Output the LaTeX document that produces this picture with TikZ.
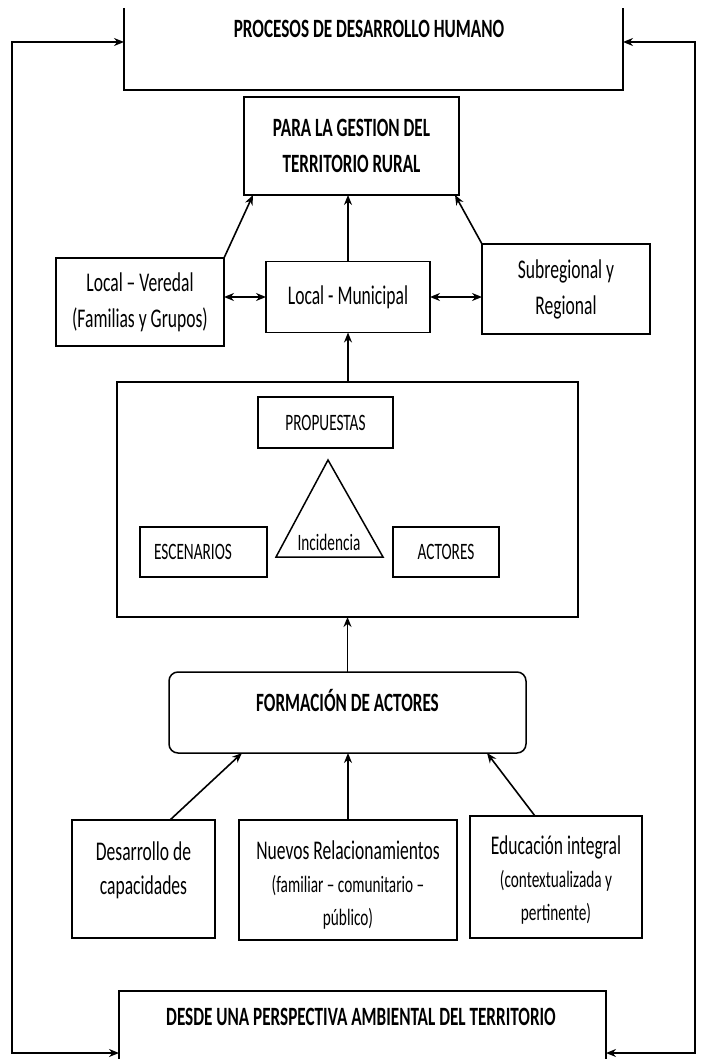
\documentclass[tikz,border=0pt]{standalone}
\usepackage{fontspec}
\setmainfont{Carlito}[FakeStretch=0.65]
\usetikzlibrary{arrows.meta,calc}
\begin{document}
\begin{tikzpicture}[x=1pt,y=-1pt,
  line width=1.5pt,
  box/.style={draw, line width=1.5pt, inner sep=0pt, outer sep=0pt},
  arr/.style={-{Stealth[length=10pt,width=8pt]}, line width=1.6pt},
  darr/.style={{Stealth[length=10pt,width=8pt]}-{Stealth[length=10pt,width=8pt]}, line width=1.6pt},
  ttl/.style={font=\fontsize{26.4}{36}\selectfont\bfseries, align=center, inner sep=0pt},
  txt/.style={font=\fontsize{27}{36}\selectfont, align=center, inner sep=0pt},
  small/.style={font=\fontsize{23.5}{33}\selectfont, align=center, inner sep=0pt},
  caps/.style={font=\fontsize{23.5}{26}\selectfont, align=center, inner sep=0pt}
]
\useasboundingbox (0,0) rectangle (705,1059);

% top open box
\coordinate (pTL) at (124,8);
\coordinate (pBL) at (124,90);
\coordinate (pBR) at (623,90);
\coordinate (pTR) at (623,8);
\draw (pTL) -- (pBL) -- (pBR) -- (pTR);
\node[ttl] (proc) at (369,29) {PROCESOS DE DESARROLLO HUMANO};

% bottom open box
\coordinate (dTL) at (119,1062);
\coordinate (dUL) at (119,991);
\coordinate (dUR) at (606,991);
\coordinate (dTR) at (606,1062);
\draw (dTL) -- (dUL) -- (dUR) -- (dTR);
\node[ttl] (desde) at (361,1017) {DESDE UNA PERSPECTIVA AMBIENTAL DEL TERRITORIO};

% feedback loops
\coordinate (lA) at (124,42);
\coordinate (lB) at (12,42);
\coordinate (lC) at (12,1053);
\coordinate (lD) at (119,1053);
\coordinate (rA) at (623,42);
\coordinate (rB) at (695,42);
\coordinate (rC) at (695,1053);
\coordinate (rD) at (606,1053);
\draw[darr] (lA) -- (lB) -- (lC) -- (lD);
\draw[darr] (rA) -- (rB) -- (rC) -- (rD);

% PARA box
\node[box, minimum width=215pt, minimum height=98pt] (para) at (351.5,146) {};
\node[ttl] (paraT) at (para.center) {PARA LA GESTION DEL\\TERRITORIO RURAL};

% middle row
\node[box, minimum width=168pt, minimum height=88pt] (ver) at (140,302) {};
\node[txt] (verT) at (ver.center) {Local – Veredal\\(Familias y Grupos)};
\node[box, minimum width=164pt, minimum height=71pt] (mun) at (348,297) {};
\node[txt] (munT) at (mun.center) {Local - Municipal};
\node[box, minimum width=168pt, minimum height=90pt] (sub) at (566,289) {};
\node[txt] (subT) at (sub.center) {Subregional y\\Regional};

\draw[darr] (mun.west -| ver.east) -- (mun.west);
\draw[darr] (mun.east) -- (mun.east -| sub.west);
\draw[arr] (ver.north east) -- ($(para.south west)+(9,0)$);
\draw[arr] (mun.north) -- (mun.north |- para.south);
\draw[arr] (sub.north west) -- ($(para.south east)+(-4,0)$);

% big box
\node[box, minimum width=461pt, minimum height=235pt] (big) at (347.5,499.5) {};
\draw[arr] (mun.south |- big.north) -- (mun.south);
\node[box, minimum width=135pt, minimum height=51pt, caps] (prop) at (325.5,422.5) {PROPUESTAS};
\coordinate (tA) at (328,460);
\coordinate (tB) at (276,557);
\coordinate (tC) at (383,557);
\draw (tA) -- (tB) -- (tC) -- cycle;
\node[caps] (inc) at (329,542) {Incidencia};
\node[box, minimum width=127pt, minimum height=50pt] (esc) at (203.5,552) {};
\node[caps] (escT) at (193,552) {ESCENARIOS};
\node[box, minimum width=106pt, minimum height=50pt, caps] (act) at (446,552) {ACTORES};

% formacion
\node[box, rounded corners=9pt, minimum width=357pt, minimum height=81pt] (form) at (347.5,712.5) {};
\node[ttl] (formT) at (347.5,700) {FORMACIÓN DE ACTORES};
\draw[arr] (form.north) -- (form.north |- big.south);

% bottom row
\node[box, minimum width=143pt, minimum height=118pt] (des) at (143.5,879) {};
\node[txt, font=\fontsize{27}{34}\selectfont] (desT) at (143.5,870) {Desarrollo de\\capacidades};
\node[box, minimum width=218pt, minimum height=120pt] (nue) at (348,880) {};
\node[small] (nueT) at (348,885) {{\fontsize{27}{33}\selectfont Nuevos Relacionamientos}\\(familiar – comunitario –\\público)};
\node[box, minimum width=172pt, minimum height=122pt] (edu) at (556,877) {};
\node[small] (eduT) at (556,880) {{\fontsize{27}{33}\selectfont Educación integral}\\(contextualizada y\\pertinente)};

\draw[arr] ($(des.north west)+(98,0)$) -- ($(form.south west)+(73,0)$);
\draw[arr] (nue.north) -- (nue.north |- form.south);
\draw[arr] ($(edu.north west)+(65,0)$) -- ($(form.south east)+(-39,0)$);
\end{tikzpicture}
\end{document}
